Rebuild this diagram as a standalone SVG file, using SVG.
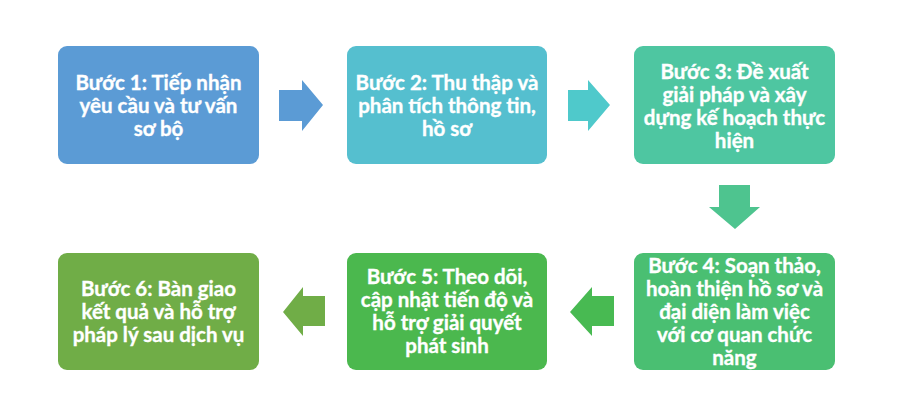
<svg xmlns="http://www.w3.org/2000/svg" width="909" height="413" viewBox="0 0 909 413">
<style>
.t{font-family:Lato,"Open Sans","Liberation Sans",sans-serif;font-weight:bold;font-size:20.5px;fill:#ffffff;stroke:#ffffff;stroke-width:0.35px;text-anchor:middle}
</style>
<rect width="909" height="413" fill="#ffffff"/>
<g id="connectors">
<path d="M279,90 H302 V80 L323,105 L302,131 V121 H279 Z" fill="#5B9BD5"/>
<path d="M568,90 H588 V80 L610,105 L588,131 V121 H568 Z" fill="#4FC9CB"/>
<path d="M719,185 H750 V207 H760 L735,229 L709,207 H719 Z" fill="#4EC48F"/>
<path d="M614,296 H592 V287 L570,312 L592,336 V326 H614 Z" fill="#48BA52"/>
<path d="M325,296 H303 V287 L283,312 L303,336 V326 H325 Z" fill="#70AD47"/>
</g>
<g id="step1">
<rect x="58" y="46" width="201" height="118" rx="9" fill="#5B9BD5"/>
<text class="t" x="158.5" y="90">Bước 1: Tiếp nhận</text>
<text class="t" x="158.5" y="113">yêu cầu và tư vấn</text>
<text class="t" x="158.5" y="136">sơ bộ</text>
</g>
<g id="step2">
<rect x="347" y="46" width="200" height="118" rx="9" fill="#55BFCF"/>
<text class="t" x="447" y="90">Bước 2: Thu thập và</text>
<text class="t" x="447" y="113">phân tích thông tin,</text>
<text class="t" x="447" y="136">hồ sơ</text>
</g>
<g id="step3">
<rect x="634" y="46" width="201" height="118" rx="9" fill="#4EC6A1"/>
<text class="t" x="734.5" y="78.5">Bước 3: Đề xuất</text>
<text class="t" x="734.5" y="101.5">giải pháp và xây</text>
<text class="t" x="734.5" y="124.5">dựng kế hoạch thực</text>
<text class="t" x="734.5" y="147.5">hiện</text>
</g>
<g id="step4">
<rect x="634" y="253" width="201" height="117" rx="9" fill="#4ABF72"/>
<text class="t" x="734.5" y="272.5">Bước 4: Soạn thảo,</text>
<text class="t" x="734.5" y="295.5">hoàn thiện hồ sơ và</text>
<text class="t" x="734.5" y="318.5">đại diện làm việc</text>
<text class="t" x="734.5" y="341.5">với cơ quan chức</text>
<text class="t" x="734.5" y="364.5">năng</text>
</g>
<g id="step5">
<rect x="347" y="253" width="200" height="117" rx="9" fill="#4BB84E"/>
<text class="t" x="447" y="284">Bước 5: Theo dõi,</text>
<text class="t" x="447" y="307">cập nhật tiến độ và</text>
<text class="t" x="447" y="330">hỗ trợ giải quyết</text>
<text class="t" x="447" y="353">phát sinh</text>
</g>
<g id="step6">
<rect x="58" y="253" width="201" height="117" rx="9" fill="#70AD47"/>
<text class="t" x="158.5" y="295.5">Bước 6: Bàn giao</text>
<text class="t" x="158.5" y="318.5">kết quả và hỗ trợ</text>
<text class="t" x="158.5" y="341.5">pháp lý sau dịch vụ</text>
</g>
</svg>
